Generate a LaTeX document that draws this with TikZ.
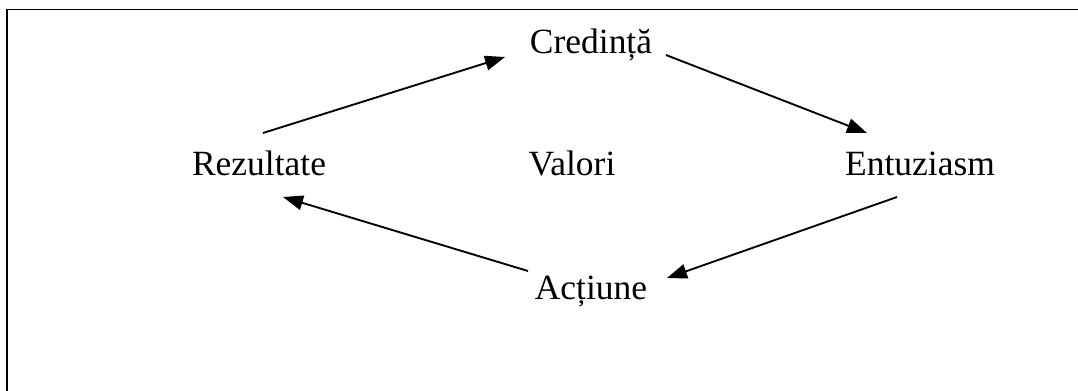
\documentclass[tikz,border=0pt]{standalone}
\usepackage{fontspec}
\setmainfont{Liberation Serif}
\usetikzlibrary{arrows.meta,calc}
\begin{document}
\begin{tikzpicture}[x=0.75pt,y=-0.75pt,
    lbl/.style={inner sep=0pt,anchor=base,font=\fontsize{26.6}{30}\selectfont},
    arr/.style={line width=1.4pt,-{Triangle[length=15pt,width=11pt]}},
    frame/.style={line width=1.3pt,line cap=rect}]
  \useasboundingbox (0,0) rectangle (1078,390);
  % open frame: only the top and left edges
  \draw[frame] (7,392) -- (7,9.5) -- (1080,9.5);

  \node[lbl] (cred) at (591,53)  {Credință};
  \node[lbl] (rez)  at (259,175) {Rezultate};
  \node[lbl] (val)  at (572,175) {Valori};
  \node[lbl] (ent)  at (920,175) {Entuziasm};
  \node[lbl] (act)  at (591,299) {Acțiune};

  \draw[arr] ($(rez.base)+(4,-42)$)  -- ($(cred.base)+(-86,4)$);
  \draw[arr] ($(cred.base)+(75,2)$)  -- ($(ent.base)+(-53,-42)$);
  \draw[arr] ($(ent.base)+(-23,22)$) -- ($(act.base)+(76,-21)$);
  \draw[arr] ($(act.base)+(-63,-28)$) -- ($(rez.base)+(24,22)$);
\end{tikzpicture}
\end{document}
